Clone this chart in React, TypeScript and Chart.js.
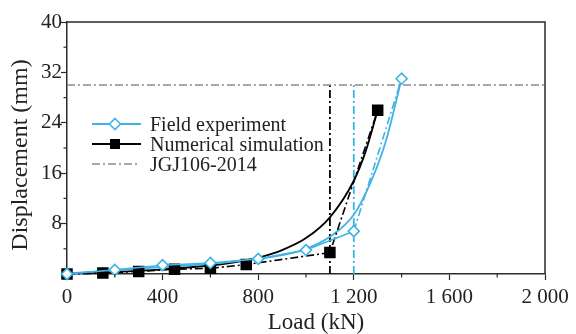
import React, { useEffect, useRef } from "react";
import { Chart, registerables } from "chart.js";
Chart.register(...registerables);

// ---- data ----
const fieldLoad = [0, 200, 400, 600, 800, 1000, 1200, 1400];
const fieldDisp = [0, 0.65, 1.4, 1.75, 2.4, 3.8, 6.8, 31];
const simLoad = [0, 150, 300, 450, 600, 750, 1100, 1300];
const simDisp = [0, 0.15, 0.4, 0.75, 0.9, 1.5, 3.4, 26];
const fieldFitLoad = [0, 200, 400, 600, 800, 900, 1000, 1100, 1200, 1270, 1335, 1400];
const fieldFitDisp = [0.1, 0.6, 1.1, 1.6, 2.4, 3.0, 4.0, 5.9, 9.4, 14.5, 21.2, 31];
const simFitLoad = [0, 200, 400, 600, 700, 800, 900, 1000, 1100, 1200, 1250, 1300];
const simFitDisp = [0.1, 0.35, 0.75, 1.35, 1.85, 2.6, 3.8, 5.7, 9.0, 14.8, 19.5, 26];
const limitDisp = 30;
const limitLoadRange = [0, 2000];
const simLimitLoad = 1100;
const fieldLimitLoad = 1200;
const xMajorStep = 400;
const yMajorStep = 8;
const legendLabels = ["Field experiment", "Numerical simulation", "JGJ106-2014"];
const xTitle = "Load (kN)";
const yTitle = "Displacement (mm)";

const CYAN = "#3DB4E5";
const BLACK = "#000000";
const GRAY = "#8a8a8a";
const AXIS = "#2a2a2a";
const FONT = "'Liberation Serif', 'Times New Roman', serif";
const DASHDOT = [8, 3, 2, 3];

const pts = (xs: number[], ys: number[]) => xs.map((x, i) => ({ x, y: ys[i] }));

const fmtX = (v: number) => {
  if (v >= 1000) {
    const th = Math.floor(v / 1000);
    const rest = String(v % 1000).padStart(3, "0");
    return th + " " + rest;
  }
  return String(v);
};

const decor = {
  id: "decor",
  afterDraw(chart: any) {
    const { ctx, chartArea: a, scales } = chart;
    const x = scales.x;
    const y = scales.y;
    ctx.save();
    // top & right border
    ctx.strokeStyle = AXIS;
    ctx.lineWidth = 1.5;
    ctx.setLineDash([]);
    ctx.beginPath();
    ctx.moveTo(a.left, a.top);
    ctx.lineTo(a.right, a.top);
    ctx.lineTo(a.right, a.bottom);
    ctx.stroke();
    // minor ticks
    ctx.lineWidth = 1.2;
    x.ticks.forEach((t: any) => {
      if (t.value % xMajorStep !== 0) {
        const px = x.getPixelForValue(t.value);
        ctx.beginPath();
        ctx.moveTo(px, a.bottom);
        ctx.lineTo(px, a.bottom + 3.5);
        ctx.stroke();
      }
    });
    y.ticks.forEach((t: any) => {
      if (t.value % yMajorStep !== 0) {
        const py = y.getPixelForValue(t.value);
        ctx.beginPath();
        ctx.moveTo(a.left, py);
        ctx.lineTo(a.left - 3.5, py);
        ctx.stroke();
      }
    });
    // axis titles
    ctx.fillStyle = "#222";
    ctx.textAlign = "center";
    ctx.textBaseline = "alphabetic";
    ctx.font = `23px ${FONT}`;
    ctx.fillText(xTitle, 316, 329);
    ctx.save();
    ctx.font = `24px ${FONT}`;
    ctx.translate(27, 155);
    ctx.rotate(-Math.PI / 2);
    ctx.fillText(yTitle, 0, 0);
    ctx.restore();
    // legend
    const rows = [124, 144, 164];
    const lx0 = 92;
    const lx1 = 141;
    const mx = 115;
    ctx.font = `20px ${FONT}`;
    ctx.textAlign = "left";
    // row 1
    ctx.strokeStyle = CYAN;
    ctx.lineWidth = 1.8;
    ctx.beginPath();
    ctx.moveTo(lx0, rows[0]);
    ctx.lineTo(lx1, rows[0]);
    ctx.stroke();
    ctx.fillStyle = "#fff";
    ctx.lineWidth = 1.6;
    ctx.beginPath();
    const r = 5.5;
    ctx.moveTo(mx, rows[0] - r);
    ctx.lineTo(mx + r, rows[0]);
    ctx.lineTo(mx, rows[0] + r);
    ctx.lineTo(mx - r, rows[0]);
    ctx.closePath();
    ctx.fill();
    ctx.stroke();
    // row 2
    ctx.strokeStyle = BLACK;
    ctx.lineWidth = 1.8;
    ctx.beginPath();
    ctx.moveTo(lx0, rows[1]);
    ctx.lineTo(lx1, rows[1]);
    ctx.stroke();
    ctx.fillStyle = BLACK;
    ctx.fillRect(mx - 5, rows[1] - 5, 10, 10);
    // row 3
    ctx.strokeStyle = GRAY;
    ctx.lineWidth = 1.5;
    ctx.setLineDash(DASHDOT);
    ctx.beginPath();
    ctx.moveTo(lx0, rows[2]);
    ctx.lineTo(lx1 - 3, rows[2]);
    ctx.stroke();
    ctx.setLineDash([]);
    ctx.fillStyle = "#222";
    legendLabels.forEach((l, i) => ctx.fillText(l, 150, rows[i] + 7));
    ctx.restore();
  },
};

export default function App() {
  const ref = useRef<HTMLCanvasElement | null>(null);
  useEffect(() => {
    if (!ref.current) return;
    const chart = new Chart(ref.current, {
      type: "line",
      data: {
        datasets: [
          {
            label: legendLabels[0],
            data: pts(fieldLoad, fieldDisp),
            borderColor: CYAN,
            borderWidth: 1.6,
            pointStyle: "rectRot",
            pointRadius: 5.5,
            pointBorderWidth: 1.6,
            pointBackgroundColor: "#fff",
            pointBorderColor: CYAN,
            tension: 0,
            clip: false,
            segment: {
              borderDash: (c: any) => (c.p1DataIndex === fieldLoad.length - 1 ? DASHDOT : undefined),
            },
          } as any,
          {
            label: legendLabels[1],
            data: pts(simLoad, simDisp),
            borderColor: BLACK,
            borderWidth: 1.6,
            borderDash: DASHDOT,
            pointStyle: "rect",
            pointRadius: 7,
            pointBackgroundColor: BLACK,
            pointBorderColor: BLACK,
            tension: 0,
            clip: false,
          } as any,
          {
            label: "field fit",
            data: pts(fieldFitLoad, fieldFitDisp),
            borderColor: CYAN,
            borderWidth: 1.8,
            pointRadius: 0,
            cubicInterpolationMode: "monotone",
          },
          {
            label: "sim fit",
            data: pts(simFitLoad, simFitDisp),
            borderColor: BLACK,
            borderWidth: 1.8,
            pointRadius: 0,
            cubicInterpolationMode: "monotone",
          },
          {
            label: legendLabels[2],
            data: pts(limitLoadRange, [limitDisp, limitDisp]),
            borderColor: GRAY,
            borderWidth: 1.5,
            borderDash: DASHDOT,
            pointRadius: 0,
          },
          {
            label: "sim limit",
            data: pts([simLimitLoad, simLimitLoad], [0, limitDisp]),
            borderColor: BLACK,
            borderWidth: 1.8,
            borderDash: DASHDOT,
            pointRadius: 0,
          },
          {
            label: "field limit",
            data: pts([fieldLimitLoad, fieldLimitLoad], [0, limitDisp]),
            borderColor: CYAN,
            borderWidth: 1.8,
            borderDash: DASHDOT,
            pointRadius: 0,
          },
        ],
      },
      options: {
        animation: false,
        responsive: false,
        layout: { padding: { top: 22, right: 31, left: 0, bottom: 0 } },
        plugins: { legend: { display: false }, tooltip: { enabled: false } },
        scales: {
          x: {
            type: "linear",
            min: 0,
            max: 2000,
            border: { display: true, color: AXIS, width: 1.5 },
            grid: {
              drawOnChartArea: false,
              drawTicks: true,
              tickLength: 6,
              tickWidth: 1.2,
              tickColor: (c: any) => (c.tick && c.tick.value % xMajorStep === 0 ? AXIS : "rgba(0,0,0,0)"),
            },
            ticks: {
              stepSize: 200,
              autoSkip: false,
              maxRotation: 0,
              padding: 5,
              color: "#222",
              font: { family: FONT, size: 21 },
              callback: (v: any) => (Number(v) % xMajorStep === 0 ? fmtX(Number(v)) : ""),
            },
            afterFit: (s: any) => {
              s.height = 60;
            },
          },
          y: {
            type: "linear",
            min: 0,
            max: 40,
            border: { display: true, color: AXIS, width: 1.5 },
            grid: {
              drawOnChartArea: false,
              drawTicks: true,
              tickLength: 6,
              tickWidth: 1.2,
              tickColor: (c: any) => (c.tick && c.tick.value % yMajorStep === 0 ? AXIS : "rgba(0,0,0,0)"),
            },
            ticks: {
              stepSize: 4,
              autoSkip: false,
              padding: -1,
              color: "#222",
              font: { family: FONT, size: 21 },
              callback: (v: any) => (Number(v) % yMajorStep === 0 && Number(v) !== 0 ? String(v) : ""),
            },
            afterFit: (s: any) => {
              s.width = 67;
            },
          },
        },
      },
      plugins: [decor],
    });
    return () => chart.destroy();
  }, []);
  return (
    <div style={{ position: "fixed", left: 0, top: 0, width: 576, height: 334, background: "#fff" }}>
      <canvas ref={ref} width={576} height={334} style={{ display: "block" }} />
    </div>
  );
}
